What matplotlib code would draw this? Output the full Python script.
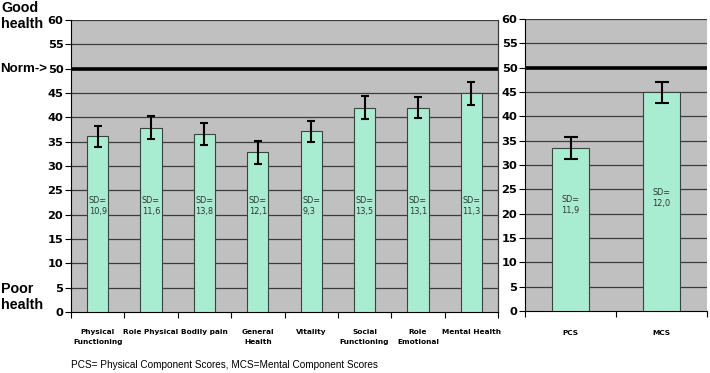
import numpy as np
import matplotlib
matplotlib.use("Agg")
import matplotlib.pyplot as plt

# SF-36 scale means, error bar half-widths and SDs
scales = ["Physical\nFunctioning", "Role Physical", "Bodily pain", "General\nHealth",
          "Vitality", "Social\nFunctioning", "Role\nEmotional", "Mental Health"]
scale_means = [36.1, 37.9, 36.6, 32.8, 37.1, 42.0, 42.0, 44.9]
scale_err = [2.2, 2.4, 2.3, 2.4, 2.2, 2.4, 2.1, 2.3]
scale_sd = ["10,9", "11,6", "13,8", "12,1", "9,3", "13,5", "13,1", "11,3"]

comps = ["PCS", "MCS"]
comp_means = [33.5, 44.9]
comp_err = [2.3, 2.2]
comp_sd = ["11,9", "12,0"]

norm = 50
yticks = np.arange(0, 61, 5)

bar_col = "#a8ecd2"
bg_col = "#c0c0c0"
grid_col = "#3c3c3c"

fig = plt.figure(figsize=(7.1, 3.73), dpi=100)
ax1 = fig.add_axes([71/710, 1-312/373, 427/710, 292/373])
ax2 = fig.add_axes([525/710, 1-311/373, 182/710, 292/373])


def setup(ax, n, labels, pad):
    ax.set_facecolor(bg_col)
    ax.set_xlim(0, n)
    ax.set_ylim(0, 60)
    ax.set_yticks(yticks)
    ax.set_yticklabels([str(v) for v in yticks], fontweight="bold", fontsize=8.2)
    for v in yticks[1:]:
        ax.axhline(v, color=grid_col, lw=0.9, zorder=1)
    ax.axhline(norm, color="black", lw=2.6, zorder=4)
    ax.set_xticks(np.arange(0, n + 1))
    ax.set_xticklabels([])
    ax.set_xticks(np.arange(n) + 0.5, minor=True)
    ax.set_xticklabels(labels, minor=True, fontweight="bold", fontsize=5.3,
                       linespacing=1.9, va="top")
    ax.tick_params(axis="x", which="minor", length=0, pad=pad)
    ax.tick_params(axis="x", which="major", length=4, width=0.8, direction="out")
    ax.tick_params(axis="y", length=4, width=0.8, direction="out", pad=1.5)
    for s in ["top", "right"]:
        ax.spines[s].set_visible(False)
    ax.spines["left"].set_linewidth(0.8)
    ax.spines["bottom"].set_linewidth(0.8)


setup(ax1, len(scales), scales, 12)
setup(ax2, len(comps), comps, 14)
ax1.spines["right"].set_visible(True)
ax1.spines["right"].set_color(grid_col)
ax1.spines["right"].set_linewidth(0.9)

x1 = np.arange(len(scales)) + 0.5
ax1.bar(x1, scale_means, width=0.40, color=bar_col, edgecolor="#404040",
        linewidth=0.8, zorder=3)
ax1.errorbar(x1, scale_means, yerr=scale_err, fmt="none", ecolor="black",
             elinewidth=1.5, capsize=3.2, capthick=1.5, zorder=5)
for xi, sd in zip(x1, scale_sd):
    ax1.text(xi, 21.8, "SD=\n" + sd, ha="center", va="center", fontsize=5.9,
             color="#333333", linespacing=1.35, multialignment="left", zorder=6)

x2 = np.arange(len(comps)) + 0.5
ax2.bar(x2, comp_means, width=0.41, color=bar_col, edgecolor="#404040",
        linewidth=0.8, zorder=3)
ax2.errorbar(x2, comp_means, yerr=comp_err, fmt="none", ecolor="black",
             elinewidth=1.5, capsize=4.8, capthick=1.5, zorder=5)
for xi, sd, y in zip(x2, comp_sd, [21.8, 23.2]):
    ax2.text(xi, y, "SD=\n" + sd, ha="center", va="center", fontsize=5.9,
             color="#333333", linespacing=1.35, multialignment="left", zorder=6)

side = dict(ha="left", va="center", fontsize=10.3, fontweight="bold",
            family="Liberation Sans", linespacing=1.1)
fig.text(1/710, 1-16/373, "Good\nhealth", **side)
fig.text(0, 1-69/373, "Norm->", **dict(side, fontsize=9.6))
fig.text(1/710, 1-297/373, "Poor\nhealth", **side)
fig.text(71/710, 1-365/373, "PCS= Physical Component Scores, MCS=Mental Component Scores",
         ha="left", va="center", fontsize=7.2, family="Liberation Sans")

fig.savefig("out.png", dpi=100)
